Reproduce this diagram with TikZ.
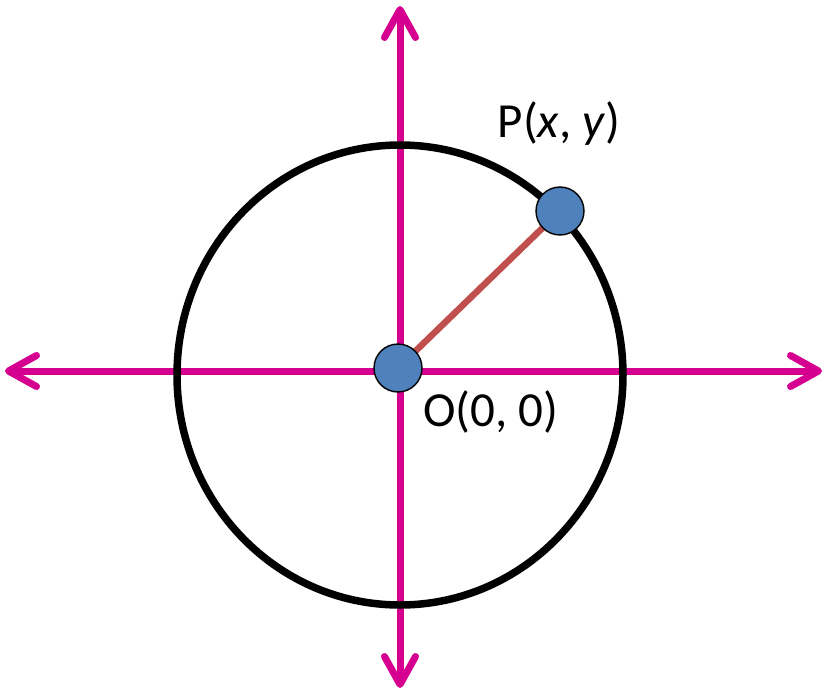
\documentclass[tikz,border=0pt]{standalone}
\usepackage{fontspec}
\setmainfont{Carlito}
\usetikzlibrary{arrows.meta,backgrounds}
\definecolor{axismag}{RGB}{213,0,143}
\definecolor{dotblue}{RGB}{79,129,189}
\definecolor{radred}{RGB}{192,80,77}
\tikzset{
  axisline/.style={draw=axismag, line width=7pt,
    arrows={Straight Barb[length=28pt,width=31pt,round]-Straight Barb[length=28pt,width=31pt,round]}},
  dot/.style={circle, fill=dotblue, draw=black, line width=1.4pt, minimum size=48pt, inner sep=0pt},
  lbl/.style={font=\fontsize{49}{55}\selectfont, anchor=base, inner sep=0pt}
}
\begin{document}
\begin{tikzpicture}[x=1pt,y=-1pt]
\useasboundingbox (0,0) rectangle (827,693);
\coordinate (L) at (5,371);
\coordinate (R) at (822,371);
\coordinate (T) at (400,6);
\coordinate (B) at (400,688);
\draw[axisline] (L) -- (R);
\draw[axisline] (T) -- (B);
\draw[line width=7.5pt] (400,375) ellipse [x radius=223, y radius=230];
\node[dot] (O) at (398,368) {};
\node[dot] (P) at (560,211) {};
\begin{scope}[on background layer]
\draw[radred, line width=6.5pt] (O.center) -- (P.center);
\end{scope}
\node[lbl] (Plbl) at (559,137) {P(\textit{x}, \textit{y})};
\node[lbl] (Olbl) at (491,426) {O(0, 0)};
\end{tikzpicture}
\end{document}
